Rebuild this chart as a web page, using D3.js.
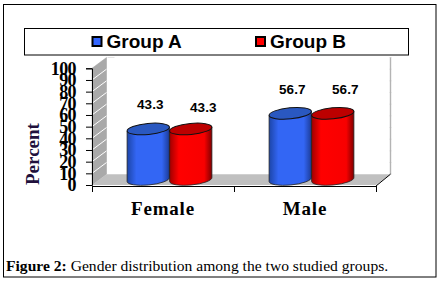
<!DOCTYPE html>
<html>
<head>
<meta charset="utf-8">
<script src="https://cdn.jsdelivr.net/npm/d3@7"></script>
<style>
html,body{margin:0;padding:0;background:#fff;overflow:hidden;}
svg{display:block;}
</style>
</head>
<body>
<div id="chart"></div>
<script>
var categories=["Female","Male"];
var groups=["Group A","Group B"];
var groupA=[43.3,56.7];
var groupB=[43.3,56.7];
var yTicks=[0,10,20,30,40,50,60,70,80,90,100];

var width=442,height=281;
var dx=14.5,dy=10.8; // depth of the 3d box
var svg=d3.select("#chart").append("svg").attr("width",width).attr("height",height);
var defs=svg.append("defs");

function shade(id,c0,c1,c2,c3){
  var g=defs.append("linearGradient").attr("id",id);
  g.append("stop").attr("offset","0%").attr("stop-color",c0);
  g.append("stop").attr("offset","22%").attr("stop-color",c1);
  g.append("stop").attr("offset","82%").attr("stop-color",c2);
  g.append("stop").attr("offset","100%").attr("stop-color",c3);
}
shade("blueBody","#1c45a8","#3366f4","#3366f4","#1c3c98");
shade("redBody","#a00000","#ff0000","#f80000","#800000");

var y=d3.scaleLinear().domain([0,100]).range([185,68.3]);
var x0=d3.scaleBand().domain(categories).range([92,376]);
var x1=d3.scaleBand().domain(groups).range([0,85]);

// outer frame
svg.append("rect").attr("x",3.5).attr("y",4.5).attr("width",432.5).attr("height",272.5)
  .attr("fill","#fff").attr("stroke","#000").attr("stroke-width",1);

// legend
svg.append("rect").attr("x",24.5).attr("y",28.5).attr("width",384).attr("height",26.5)
  .attr("fill","#fff").attr("stroke","#000").attr("stroke-width",1);
var legendX=[92.5,256],legendFill=["#3366ff","#ff0000"],legendTextX=[106.5,270];
groups.forEach(function(g,i){
  svg.append("rect").attr("x",legendX[i]).attr("y",37).attr("width",9).attr("height",9)
    .attr("fill",legendFill[i]).attr("stroke","#000").attr("stroke-width",2);
  svg.append("text").attr("x",legendTextX[i]).attr("y",48).text(g)
    .attr("font-family","Liberation Sans").attr("font-weight","bold").attr("font-size",19).attr("fill","#000");
});

// side wall
var x_l=x0.range()[0],x_r=x0.range()[1];
svg.append("path")
  .attr("d","M"+x_l+","+y(0)+"L"+(x_l+dx)+","+(y(0)-dy)+"L"+(x_l+dx)+","+(y(100)-dy)+"L"+x_l+","+y(100)+"Z")
  .attr("fill","#a9a9a9").attr("stroke","#a0a0a0").attr("stroke-width",0.5);
// floor
svg.append("path")
  .attr("d","M"+x_l+","+y(0)+"L"+(x_l+dx)+","+(y(0)-dy)+"L"+(x_r+dx)+","+(y(0)-dy)+"L"+x_r+","+y(0)+"Z")
  .attr("fill","#c0c0c0");
// white grid on the side wall, faint on the back wall
svg.selectAll(".grid").data(yTicks.slice(1,-1)).enter().append("line").attr("class","grid")
  .attr("x1",x_l).attr("x2",x_l+dx)
  .attr("y1",function(d){return y(d);})
  .attr("y2",function(d){return y(d)-dy;})
  .attr("stroke","#fff").attr("stroke-width",1);
svg.selectAll(".rgrid").data(yTicks).enter().append("line").attr("class","rgrid")
  .attr("x1",x_r+dx-1).attr("x2",x_r+dx+1)
  .attr("y1",function(d){return y(d)-dy;})
  .attr("y2",function(d){return y(d)-dy;})
  .attr("stroke","#e4e4e4").attr("stroke-width",1);
svg.append("line").attr("x1",x_r+dx).attr("x2",x_r+dx).attr("y1",y(100)-dy).attr("y2",y(0)-dy)
  .attr("stroke","#b4b4b4").attr("stroke-width",1.4);
svg.append("line").attr("x1",x_r).attr("x2",x_r+dx).attr("y1",y(0)+1).attr("y2",y(0)-dy)
  .attr("stroke","#000").attr("stroke-width",1);
svg.append("line").attr("x1",x_l+dx+1).attr("x2",x_l+dx+8).attr("y1",y(100)-dy).attr("y2",y(100)-dy)
  .attr("stroke","#e4e4e4").attr("stroke-width",1);

// axes
var yAxis=d3.axisLeft(y).tickValues(yTicks).tickSize(6).tickPadding(10);
var gy=svg.append("g").attr("transform","translate(92,0)").call(yAxis);
gy.select(".domain").attr("stroke","#000");
gy.selectAll("text").attr("font-family","Liberation Serif").attr("font-weight","bold").attr("font-size",18)
  .attr("fill","#000").attr("letter-spacing","-0.6");

var xAxis=d3.axisBottom(d3.scaleLinear().domain([0,2]).range([x_l,x_r])).tickValues([0,1,2]).tickSize(6).tickFormat("");
var gx=svg.append("g").attr("transform","translate(0,186)").call(xAxis);
gx.select(".domain").attr("stroke","#000");

// cylinders
var rx=x1.bandwidth()/2,ry=5.5,tilt=-5.5;
var rad=tilt*Math.PI/180;
var ex=rx*Math.cos(rad),ey=rx*Math.sin(rad);
var colours={"Group A":{body:"url(#blueBody)",top:"#2a58c0"},"Group B":{body:"url(#redBody)",top:"#bc0000"}};
var values={"Group A":groupA,"Group B":groupB};
var labelDx={"Group A":2,"Group B":12.5};
var zero=y(0)-5.5;

categories.forEach(function(cat,ci){
  groups.forEach(function(g){
    var v=values[g][ci];
    var cx=x0(cat)+(x0.bandwidth()-85)/2+x1(g)+rx+6.5;
    var top=zero-(y(0)-y(v));
    var bars=svg.append("g").attr("class","bar");
    bars.append("path")
      .attr("d","M"+(cx-ex)+","+(top-ey)+"L"+(cx-ex)+","+(zero-ey)
        +"A"+rx+","+ry+" "+tilt+" 0 0 "+(cx+ex)+","+(zero+ey)+"L"+(cx+ex)+","+(top+ey)+"Z")
      .attr("fill",colours[g].body).attr("stroke","#222").attr("stroke-width",0.8);
    bars.append("ellipse").attr("cx",cx).attr("cy",top).attr("rx",rx).attr("ry",ry)
      .attr("transform","rotate("+tilt+" "+cx+" "+top+")")
      .attr("fill",colours[g].top).attr("stroke","#111").attr("stroke-width",1);
    svg.append("text").attr("x",cx+labelDx[g])
      .attr("y",top-19.5+(ci==0&&g=="Group B"?3:0)).attr("text-anchor","middle").text(v)
      .attr("font-family","Liberation Sans").attr("font-weight","bold").attr("font-size",13.5).attr("fill","#000");
  });
});

// axis titles
svg.selectAll(".cat").data(categories).enter().append("text").attr("class","cat")
  .attr("x",function(d){return x0(d)+x0.bandwidth()/2;})
  .attr("y",215).attr("text-anchor","middle").text(function(d){return d;})
  .attr("font-family","Liberation Serif").attr("font-weight","bold").attr("font-size",19).attr("letter-spacing","0.8").attr("fill","#000");
svg.append("text").attr("transform","translate(39,185) rotate(-90)").text("Percent")
  .attr("font-family","Liberation Serif").attr("font-weight","bold").attr("font-size",19).attr("fill","#20103c");

// caption
var cap=svg.append("text").attr("x",6).attr("y",271).attr("font-family","Liberation Serif").attr("font-size",15.6).attr("fill","#000");
cap.append("tspan").attr("font-weight","bold").text("Figure 2:");
cap.append("tspan").text(" Gender distribution among the two studied groups.");
</script>
</body>
</html>
